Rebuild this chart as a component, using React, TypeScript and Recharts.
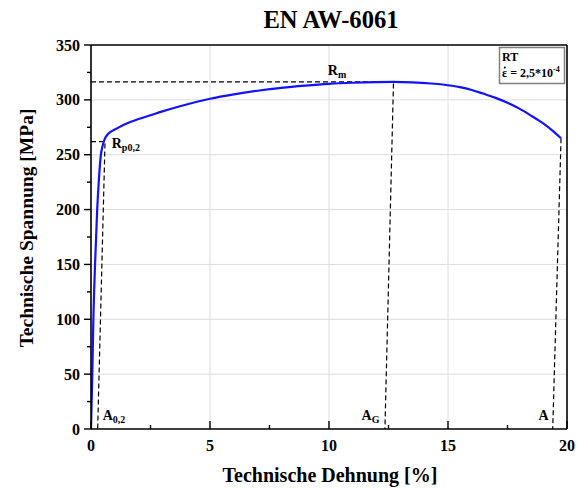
import React from 'react';
import {
  ComposedChart, Line, XAxis, YAxis, ReferenceLine, ReferenceDot, Customized
} from 'recharts';

const FONT = '"Liberation Serif", "Times New Roman", serif';

// Zugversuch EN AW-6061, RT
const strain = [0, 0.055, 0.1, 0.17, 0.26, 0.34, 0.41, 0.5, 0.58, 0.68, 0.82, 1.0, 1.5, 2, 2.5, 3, 3.7, 5, 6, 7, 8, 9, 10, 11, 12, 12.7, 13.5, 14.3, 15, 15.5, 16, 16.5, 17, 17.5, 18, 18.5, 19, 19.4, 19.75];
const stress = [0, 50, 100, 150, 200, 230, 249, 259, 264.5, 268, 270.8, 273, 278.5, 282.5, 286, 289.5, 294, 301, 305, 308.3, 311, 313, 314.6, 315.6, 316.2, 316.35, 316, 314.9, 313.3, 311.6, 309, 305.5, 301.8, 297.3, 292, 285.5, 278.5, 271.8, 265];

// Hilfslinien (gestrichelt)
const rmX = [0, 12.71, 12.35];
const rmY = [316.3, 316.3, 0];
const rpX = [0, 0.59, 0.28];
const rpY = [262, 262, 0];
const aX = [19.75, 19.4];
const aY = [265, 0];

const xTicks = [0, 2.5, 5, 7.5, 10, 12.5, 15, 17.5, 20];
const yTicks = [0, 25, 50, 75, 100, 125, 150, 175, 200, 225, 250, 275, 300, 325, 350];
const xGrid = [5, 10, 15];
const yGrid = [50, 100, 150, 200, 250, 300];

const notes = [
  { main: 'R', sub: 'm', x: 9.95, y: 322.4 },
  { main: 'R', sub: 'p0,2', x: 0.87, y: 255.9 },
  { main: 'A', sub: '0,2', x: 0.49, y: 8.2 },
  { main: 'A', sub: 'G', x: 11.37, y: 8.2 },
  { main: 'A', sub: '', x: 18.8, y: 8.2 },
];

const toPoints = (xs: number[], ys: number[]) => xs.map((x, i) => ({ x, y: ys[i] }));
const curve = toPoints(strain, stress);
const rmLine = toPoints(rmX, rmY);
const rpLine = toPoints(rpX, rpY);
const aLine = toPoints(aX, aY);

function XTick(props: any) {
  const { x, y, payload } = props;
  const major = payload.value % 5 === 0;
  return (
    <g>
      <line x1={x} x2={x} y1={y} y2={y - (major ? 8 : 4)} stroke="#000" strokeWidth={1.4} />
      {major && (
        <text x={x} y={y + 22} textAnchor="middle" fontFamily={FONT} fontWeight="bold" fontSize={16} fill="#000">
          {payload.value}
        </text>
      )}
    </g>
  );
}

function YTick(props: any) {
  const { x, y, payload } = props;
  const major = payload.value % 50 === 0;
  return (
    <g>
      <line x1={x} x2={x - (major ? 7 : 4)} y1={y} y2={y} stroke="#000" strokeWidth={1.4} />
      {major && (
        <text x={x - 11} y={y + 5.5} textAnchor="end" fontFamily={FONT} fontWeight="bold" fontSize={16} fill="#000">
          {payload.value}
        </text>
      )}
    </g>
  );
}

const noteLabel = (main: string, sub: string) => (p: any) => {
  const { x, y } = p.viewBox;
  return (
    <text x={x} y={y} fontFamily={FONT} fontWeight="bold" fontSize={14} fill="#000">
      {main}
      {sub && <tspan fontSize={10} dy={3}>{sub}</tspan>}
    </text>
  );
};

function Texts() {
  return (
    <g fontFamily={FONT} fontWeight="bold" fill="#000">
      <text x={331} y={28} textAnchor="middle" fontSize={24.6}>EN AW-6061</text>
      <text x={330} y={481.5} textAnchor="middle" fontSize={20}>Technische Dehnung [%]</text>
      <text x={32.7} y={228} textAnchor="middle" fontSize={19.5} transform="rotate(-90, 32.7, 228)">
        Technische Spannung [MPa]
      </text>
      <rect x={499.5} y={47.5} width={65} height={36} fill="#fff" stroke="#7f7f7f" strokeWidth={1.5} />
      <text x={502} y={61} fontSize={12}>RT</text>
      <text x={502} y={77} fontSize={12}>
        ε = 2,5*10<tspan fontSize={8} dy={-5}>-4</tspan>
      </text>
      <circle cx={504.8} cy={67.6} r={1} fill="#000" />
    </g>
  );
}

const dashed = { type: 'linear' as const, stroke: '#000', strokeWidth: 1.2, strokeDasharray: '5 3', dot: false, activeDot: false, isAnimationActive: false };

export default function App() {
  return (
    <div style={{ width: 586, height: 488, background: '#fff' }}>
      <style>{'body{margin:0}'}</style>
      <ComposedChart width={586} height={488} margin={{ top: 45, right: 19, bottom: 0, left: 0 }}>
        <XAxis
          type="number" dataKey="x" domain={[0, 20]} ticks={xTicks} interval={0}
          height={59} tickSize={0} tickMargin={0} tickLine={false} tick={<XTick />}
          axisLine={{ stroke: '#000', strokeWidth: 1.6 }} allowDataOverflow
        />
        <YAxis
          type="number" dataKey="y" domain={[0, 350]} ticks={yTicks} interval={0}
          width={91} tickSize={0} tickMargin={0} tickLine={false} tick={<YTick />}
          axisLine={{ stroke: '#000', strokeWidth: 1.6 }} allowDataOverflow
        />
        {xGrid.map(v => <ReferenceLine key={'gx' + v} x={v} stroke="#dcdcdc" strokeWidth={1} />)}
        {yGrid.map(v => <ReferenceLine key={'gy' + v} y={v} stroke="#dcdcdc" strokeWidth={1} />)}
        <ReferenceLine y={350} stroke="#000" strokeWidth={1.6} />
        <ReferenceLine x={20} stroke="#000" strokeWidth={1.6} />
        <Line data={rmLine} dataKey="y" {...dashed} />
        <Line data={rpLine} dataKey="y" {...dashed} />
        <Line data={aLine} dataKey="y" {...dashed} />
        <Line data={curve} dataKey="y" type="monotone" stroke="#1212ff" strokeWidth={2.2} dot={false} activeDot={false} isAnimationActive={false} />
        {notes.map((n, i) => (
          <ReferenceDot key={'n' + i} x={n.x} y={n.y} r={0} fill="none" stroke="none" label={noteLabel(n.main, n.sub)} />
        ))}
        <Customized component={Texts} />
      </ComposedChart>
    </div>
  );
}
